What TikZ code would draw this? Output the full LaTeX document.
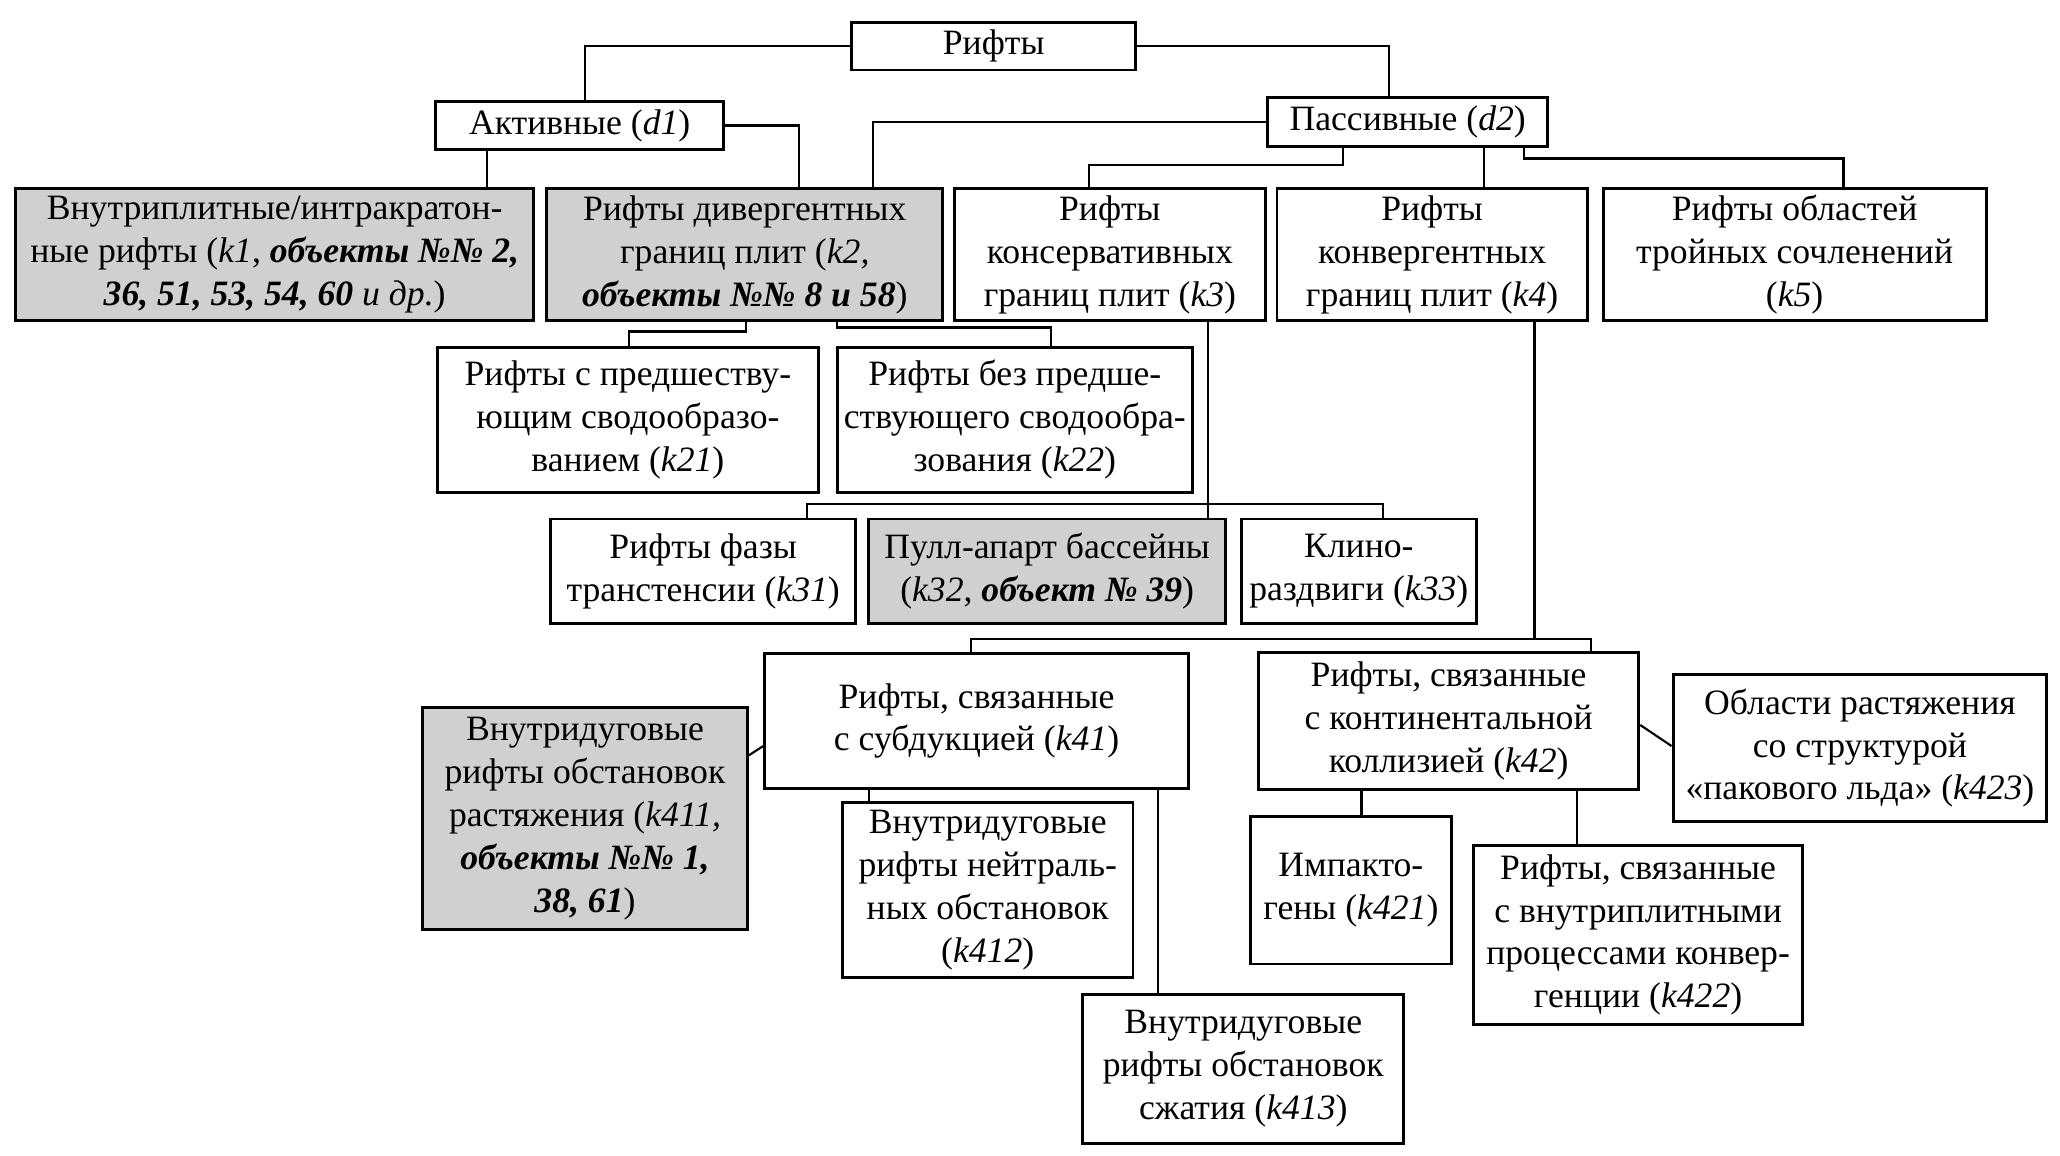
\documentclass[tikz,border=0pt]{standalone}
\usepackage{fontspec}
\setmainfont{Liberation Serif}
\newcommand\fsz{\fontsize{27}{32.5}\selectfont}
\definecolor{boxgray}{RGB}{208,208,208}
\tikzset{
  box/.style={draw, line width=2.2pt, fill=white, align=center, inner sep=0pt, font=\fsz},
  gbox/.style={box, fill=boxgray},
  conn/.style={line width=1.6pt}
}
\newcommand\bi[1]{\textbf{\textit{#1}}}
\begin{document}
\begin{tikzpicture}[x=1pt,y=-1pt]
\fill[white] (0,0) rectangle (1560,875);
\useasboundingbox (0,0) rectangle (1560,875);

\node[box, minimum width=215pt, minimum height=36pt] (top) at (752.5,35) {Рифты};
\node[box, minimum width=218pt, minimum height=36pt] (act) at (439,95) {Активные (\textit{d1})};
\node[box, minimum width=212pt, minimum height=37pt] (pas) at (1066,92.5) {Пассивные (\textit{d2})};

\node[gbox, minimum width=392pt, minimum height=100pt] (k1) at (208,193) {Внутриплитные/интракратон-\\ные рифты (\textit{k1}, \bi{объекты №№ 2,}\\\bi{36, 51, 53, 54, 60} \textit{и др.})};
\node[gbox, minimum width=300pt, minimum height=100pt] (k2) at (564,193) {Рифты дивергентных\\границ плит (\textit{k2,}\\\bi{объекты №№ 8 и 58})};
\node[box, minimum width=235pt, minimum height=100pt] (k3) at (840.5,193) {Рифты\\консервативных\\границ плит (\textit{k3})};
\node[box, minimum width=235pt, minimum height=100pt] (k4) at (1084.5,193) {Рифты\\конвергентных\\границ плит (\textit{k4})};
\node[box, minimum width=290pt, minimum height=100pt] (k5) at (1359,193) {Рифты областей\\тройных сочленений\\(\textit{k5})};

\node[box, minimum width=289pt, minimum height=110pt] (k21) at (475.5,318) {Рифты с предшеству-\\ющим сводообразо-\\ванием (\textit{k21})};
\node[box, minimum width=269pt, minimum height=110pt] (k22) at (768.5,318) {Рифты без предше-\\ствующего сводообра-\\зования (\textit{k22})};

\node[box, minimum width=231pt, minimum height=79pt] (k31) at (532.5,432.5) {Рифты фазы\\транстенсии (\textit{k31})};
\node[gbox, minimum width=270pt, minimum height=79pt] (k32) at (793,432.5) {Пулл-апарт бассейны\\(\textit{k32}, \bi{объект № 39})};
\node[box, minimum width=178pt, minimum height=79pt] (k33) at (1029,432.5) {Клино-\\раздвиги (\textit{k33})};

\node[box, minimum width=321pt, minimum height=102pt] (k41) at (739.5,546) {Рифты, связанные\\с субдукцией (\textit{k41})};
\node[box, minimum width=288pt, minimum height=104pt] (k42) at (1097,546) {Рифты, связанные\\с континентальной\\коллизией (\textit{k42})};
\node[box, minimum width=283pt, minimum height=111pt] (k423) at (1408.5,566.5) {Области растяжения\\со структурой\\«пакового льда» (\textit{k423})};

\node[gbox, minimum width=246pt, minimum height=168pt] (k411) at (443,620) {Внутридуговые\\рифты обстановок\\растяжения (\textit{k411,}\\\bi{объекты №№ 1,}\\\bi{38, 61})};
\node[box, minimum width=220pt, minimum height=132pt] (k412) at (748,674) {Внутридуговые\\рифты нейтраль-\\ных обстановок\\(\textit{k412})};
\node[box, minimum width=152pt, minimum height=112pt] (k421) at (1023,674) {Импакто-\\гены (\textit{k421})};
\node[box, minimum width=249pt, minimum height=136pt] (k422) at (1240.5,708) {Рифты, связанные\\с внутриплитными\\процессами конвер-\\генции (\textit{k422})};
\node[box, minimum width=243pt, minimum height=113pt] (k413) at (941.5,809.5) {Внутридуговые\\рифты обстановок\\сжатия (\textit{k413})};

% connectors
\draw[conn] (top.west) -| (act.north -| 443,0);
\draw[conn] (top.east) -| (pas.north -| 1052,0);
\draw[conn] (act.south -| 369,0) -- (k1.north -| 369,0);
\draw[conn] (act.east) -| (k2.north -| 605,0);
\draw[conn] (pas.west) -| (k2.north -| 661,0);
\draw[conn] (pas.south -| 1017,0) -- (1017,125) -| (k3.north -| 825,0);
\draw[conn] (pas.south -| 1124,0) -- (k4.north -| 1124,0);
\draw[conn] (pas.south -| 1154,0) -- (1154,120) -| (k5.north -| 1396,0);
\draw[conn] (k2.south -| 565,0) -- (565,251) -| (k21.north -| 476,0);
\draw[conn] (k2.south -| 634,0) -- (634,248) -| (k22.north -| 796,0);
\draw[conn] (k3.south -| 915,0) -- (k32.north -| 915,0);
\draw[conn] (k31.north -| 611,0) -- (611,382) -- (1047,382) -- (k33.north -| 1047,0);
\draw[conn] (k4.south -| 1162,0) -- (1162,484);
\draw[conn] (k41.north -| 735,0) -- (735,484) -- (1205,484) -- (k42.north -| 1205,0);
\draw[conn] (k411.east |- 0,572) -- (k41.west |- 0,565);
\draw[conn] (k41.south -| 658,0) -- (k412.north -| 658,0);
\draw[conn] (k41.south -| 877,0) -- (k413.north -| 877,0);
\draw[conn] (k42.east |- 0,549) -- (k423.west |- 0,565);
\draw[conn] (k42.south -| 1031,0) -- (k421.north -| 1031,0);
\draw[conn] (k42.south -| 1194,0) -- (k422.north -| 1194,0);
\end{tikzpicture}
\end{document}
